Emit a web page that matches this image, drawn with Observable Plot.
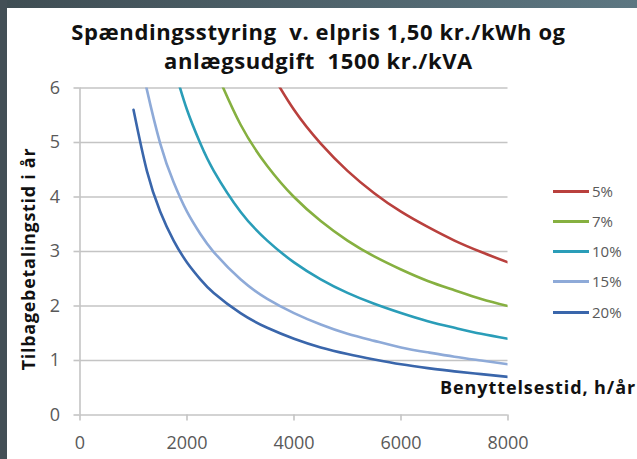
<!DOCTYPE html>
<html><head><meta charset="utf-8">
<script src="https://cdn.jsdelivr.net/npm/d3@7"></script>
<script src="https://cdn.jsdelivr.net/npm/@observablehq/plot@0.6"></script>
<style>
body{margin:0;background:#fff;}
#wrap{position:relative;width:637px;height:459px;overflow:hidden;background:#fff;font-family:"Open Sans",Lato,sans-serif;}
#topband{position:absolute;left:0;top:0;width:637px;height:8px;background:linear-gradient(to right,#3f4d53,#5d7782);}
#leftband{position:absolute;left:0;top:0;width:7px;height:459px;background:#434f56;}
.title{position:absolute;left:0;width:637px;text-align:center;font-weight:bold;font-size:22px;letter-spacing:0.6px;color:#111;line-height:26px;}
#ylab{position:absolute;left:28px;top:259px;transform:translate(-50%,-50%) rotate(-90deg);font-weight:bold;font-size:18px;letter-spacing:0.7px;white-space:nowrap;color:#111;}
#xlab{position:absolute;right:1px;top:375px;font-weight:bold;font-size:18px;letter-spacing:0.9px;white-space:nowrap;color:#111;}
.leg{position:absolute;left:553px;font-size:15px;color:#595959;display:flex;align-items:center;}
.leg span.sw{display:inline-block;width:36px;height:3px;margin-right:3px;}
#chart{position:absolute;left:0;top:0;}
</style></head>
<body>
<div id="wrap">
  <div id="chart"></div>
  <div id="topband"></div>
  <div id="leftband"></div>
  <div class="title" style="top:18px">Spændingsstyring&nbsp; v. elpris 1,50 kr./kWh og</div>
  <div class="title" style="top:47px">anlægsudgift&nbsp; 1500 kr./kVA</div>
  <div id="ylab">Tilbagebetalingstid i år</div>
  <div id="xlab">Benyttelsestid, h/år</div>
  <div id="legend"></div>
</div>
<script>
const seriesNames = ["5%", "7%", "10%", "15%", "20%"];
const seriesColors = ["#b9403d", "#86b040", "#2a9db8", "#8eaad8", "#3a66ab"];
const hours5 = [3500, 4000, 4500, 5000, 5500, 6000, 6500, 7000, 7500, 8000];
const vals5 = [6.4, 5.6, 4.98, 4.48, 4.07, 3.73, 3.45, 3.2, 2.99, 2.8];
const hours7 = [2500, 3000, 3500, 4000, 4500, 5000, 5500, 6000, 6500, 7000, 7500, 8000];
const vals7 = [6.4, 5.33, 4.57, 4.0, 3.56, 3.2, 2.91, 2.67, 2.46, 2.29, 2.13, 2.0];
const hours10 = [1750, 2000, 2250, 2500, 3000, 3500, 4000, 4500, 5000, 5500, 6000, 6500, 7000, 7500, 8000];
const vals10 = [6.4, 5.6, 4.98, 4.48, 3.73, 3.2, 2.8, 2.49, 2.24, 2.04, 1.87, 1.72, 1.6, 1.49, 1.4];
const hours15 = [1200, 1250, 1500, 1750, 2000, 2250, 2500, 3000, 3500, 4000, 4500, 5000, 5500, 6000, 6500, 7000, 7500, 8000];
const vals15 = [6.22, 5.97, 4.98, 4.27, 3.73, 3.32, 2.99, 2.49, 2.13, 1.87, 1.66, 1.49, 1.36, 1.24, 1.15, 1.07, 1.0, 0.93];
const hours20 = [1000, 1250, 1500, 1750, 2000, 2250, 2500, 3000, 3500, 4000, 4500, 5000, 5500, 6000, 6500, 7000, 7500, 8000];
const vals20 = [5.6, 4.48, 3.73, 3.2, 2.8, 2.49, 2.24, 1.87, 1.6, 1.4, 1.24, 1.12, 1.02, 0.93, 0.86, 0.8, 0.75, 0.7];
const xTicks = [0, 2000, 4000, 6000, 8000];
const yTicks = [0, 1, 2, 3, 4, 5, 6];

const allHours = [hours5, hours7, hours10, hours15, hours20];
const allVals = [vals5, vals7, vals10, vals15, vals20];
const data = [];
seriesNames.forEach((s, i) => allHours[i].forEach((h, j) => data.push({series: s, h, v: allVals[i][j]})));

const plot = Plot.plot({
  width: 637, height: 459,
  marginTop: 87.5, marginBottom: 44.5, marginLeft: 79.5, marginRight: 129.5,
  style: {fontFamily: "'Open Sans', Lato, sans-serif", background: "transparent"},
  x: {domain: [0, 8000]},
  y: {domain: [0, 6]},
  color: {domain: seriesNames, range: seriesColors},
  marks: [
    Plot.ruleY(yTicks, {stroke: "#c4c4c4", strokeWidth: 1.6}),
    Plot.ruleX([0], {stroke: "#c4c4c4", strokeWidth: 1.6}),
    Plot.axisY({ticks: yTicks, tickSize: 6, tickPadding: 14, stroke: "#c4c4c4", strokeWidth: 1.6, fill: "#595959", fontSize: 18, label: null, tickFormat: d => String(d)}),
    Plot.axisX({ticks: xTicks, tickSize: 6, tickPadding: 15, stroke: "#c4c4c4", strokeWidth: 1.6, fill: "#595959", fontSize: 18, label: null, tickFormat: d => String(d)}),
    Plot.line(data, {x: "h", y: "v", z: "series", stroke: "series", strokeWidth: 2.6, curve: "natural", clip: true})
  ]
});
document.getElementById("chart").appendChild(plot);

const legendTops = [191, 221, 251, 281, 312];
const leg = document.getElementById("legend");
seriesNames.forEach((s, i) => {
  const d = document.createElement("div");
  d.className = "leg";
  d.style.top = (legendTops[i] - 9) + "px";
  d.style.height = "18px";
  d.innerHTML = `<span class="sw" style="background:${seriesColors[i]}"></span>${s}`;
  leg.appendChild(d);
});
</script>
</body></html>
